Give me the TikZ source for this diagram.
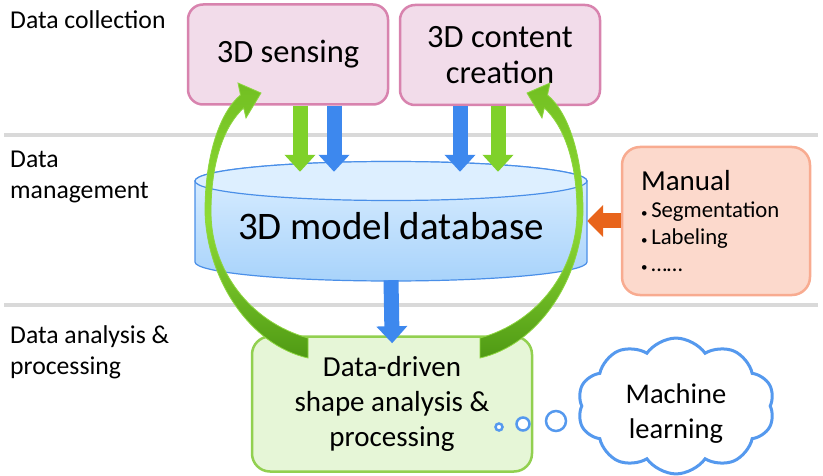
\documentclass[tikz,border=0pt]{standalone}
\usepackage{fontspec}
\setmainfont{Carlito}
\usetikzlibrary{arrows.meta,shapes.symbols,calc}

\definecolor{sepgray}{HTML}{D9D9D9}
\definecolor{pinkfill}{HTML}{F2DCEA}
\definecolor{pinkline}{HTML}{D883AE}
\definecolor{procfill}{HTML}{E6F6D7}
\definecolor{procline}{HTML}{92D050}
\definecolor{manfill}{HTML}{FCD9CC}
\definecolor{manline}{HTML}{F8AB90}
\definecolor{cloudblue}{HTML}{5599EE}
\definecolor{dbline}{HTML}{4A8FE8}
\definecolor{dbtopc}{HTML}{DDEFFF}
\definecolor{dbbotc}{HTML}{A8D3FB}
\definecolor{arrblue}{HTML}{3D88EE}
\definecolor{arrgreen}{HTML}{7FD12A}
\definecolor{arrorange}{HTML}{E8641B}
\definecolor{curvetop}{HTML}{72BF22}
\definecolor{curvemid}{HTML}{8FDC35}
\definecolor{curvebot}{HTML}{4F9A14}
\definecolor{curveedge}{HTML}{8ED640}
\newcommand{\manbullet}{{\fontsize{13}{13}\selectfont •}\,}

\begin{document}
\begin{tikzpicture}[x=1pt,y=-1pt,
    sepline/.style={line width=4pt,draw=sepgray},
    lbl/.style={inner sep=0pt,align=left,font=\fontsize{25.7}{31}\selectfont},
    collectbox/.style={draw=pinkline,fill=pinkfill,line width=2.5pt,rounded corners=15pt,
      minimum width=200pt,minimum height=100pt,align=center,font=\fontsize{32.5}{36}\selectfont},
    procbox/.style={draw=procline,fill=procfill,line width=2.5pt,rounded corners=18pt,
      minimum width=280pt,minimum height=135pt,align=center,font=\fontsize{29}{35}\selectfont},
    manualbox/.style={draw=manline,fill=manfill,line width=2.5pt,rounded corners=18pt,
      minimum width=188pt,minimum height=148pt,inner xsep=19pt,text width=150pt,align=left,
      font=\fontsize{22.7}{27}\selectfont},
    dbtext/.style={inner sep=0pt,minimum width=392pt,minimum height=108pt,font=\fontsize{39}{44}\selectfont},
    dbside/.style={draw=dbline,line width=1.2pt,top color=dbtopc,bottom color=dbbotc},
    dbtop/.style={draw=dbline,line width=1.2pt,fill=dbtopc},
    thought/.style={cloud,cloud puffs=10,cloud puff arc=110,aspect=1.5,draw=cloudblue,line width=3pt,
      fill=white,minimum width=197pt,minimum height=127pt,align=center,font=\fontsize{28.5}{35}\selectfont},
    bubble/.style={draw=cloudblue,line width=2.5pt,fill=white},
    bluearr/.style={draw=arrblue,line width=15pt,-{Triangle[width=30pt,length=17pt]}},
    greenarr/.style={draw=arrgreen,line width=15pt,-{Triangle[width=30pt,length=17pt]}},
    orangearr/.style={draw=arrorange,line width=15pt,-{Triangle[width=31pt,length=16pt]}},
    bigcurve/.style={draw=curveedge,line width=.8pt,top color=curvetop,bottom color=curvebot,middle color=curvemid}
  ]
  \useasboundingbox (0,0) rectangle (823,476);
  \draw[sepline] (4,135) -- (818,135);
  \draw[sepline] (4,305) -- (818,305);

  \node[lbl,anchor=base west] (lcollect) at (10,29) {Data collection};
  \node[lbl,anchor=north west] (lmanage) at (10,151) {Data\\management};
  \node[lbl,anchor=north west] (lanalyse) at (10,325) {Data analysis \&\\processing};

  \node[collectbox] (sense) at (288,54.5) {3D sensing};
  \node[collectbox] (content) at (500,55) {3D content\\creation};

  \path[dbside] (195,181) -- (195,262) arc[start angle=180,end angle=0,x radius=196,y radius=19]
    -- (587,181) arc[start angle=0,end angle=-180,x radius=196,y radius=19.5] -- cycle;
  \draw[dbtop] (391,181) ellipse [x radius=196,y radius=19.5];
  \node[dbtext] (db) at (391,226) {3D model database};

  \node[manualbox] (manual) at (716,221) {{\fontsize{29}{32}\selectfont Manual}\\
    \manbullet Segmentation\\ \manbullet Labeling\\ \manbullet ……};
  \node[procbox] (proc) at (392,404) {Data-driven\\shape analysis \&\\processing};

  \foreach \nd/\dx/\st in {sense/12/greenarr,sense/46/bluearr,content/-40/bluearr,content/-2/greenarr}
    {\draw[\st] ($(\nd.south)+(\dx,0)$) -- ($(\nd.south |- db.north)+(\dx,0)$);}
  \draw[bluearr,shorten >=-8pt] (db.south) -- (proc.north);
  \draw[orangearr] (manual.west) -- (manual.west -| db.east);

  \path[bigcurve] (308,338) .. controls (250,322) and (211,270) .. (211,212)
    .. controls (211,160) and (225,125) .. (243.7,108) -- (246,118) -- (261,93) -- (238,83)
    -- (240.5,95) .. controls (220,112) and (205,155) .. (205,212)
    .. controls (207,280) and (250,345) .. (308,358) -- cycle;
  \path[bigcurve] (480,338) .. controls (538,322) and (577,270) .. (577,212)
    .. controls (577,160) and (563,125) .. (544.3,108) -- (542,118) -- (527,93) -- (550,83)
    -- (547.5,95) .. controls (568,112) and (583,155) .. (583,212)
    .. controls (581,280) and (538,345) .. (480,358) -- cycle;

  \node[thought] (ml) at (676,406) {\rule{0pt}{34pt}Machine\\learning};
  \draw[bubble] (499,427) circle (3.5);
  \draw[bubble] (523,424) circle (6.5);
  \draw[bubble] (556,421) circle (10);
\end{tikzpicture}
\end{document}
